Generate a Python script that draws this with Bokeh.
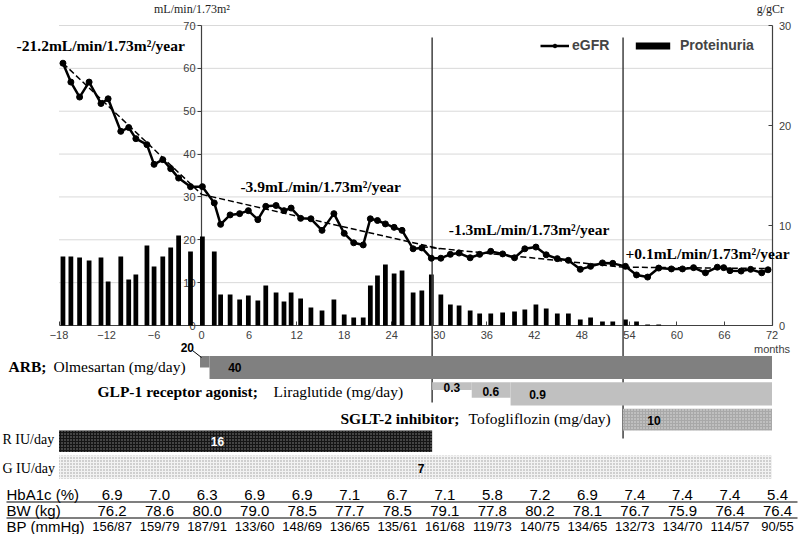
import numpy as np
from bokeh.plotting import figure
from bokeh.models import (Range1d, LinearAxis, FixedTicker, Legend, LegendItem,
                          GlobalInlineStyleSheet)
from bokeh.core.properties import value
from bokeh.embed import file_html
from bokeh.resources import INLINE

# ---------------- data ----------------
months = [-17.5, -16.5, -15.4, -14.2, -12.7, -11.8, -10.2, -9.2, -8.3, -6.9, -6.0, -4.9, -3.9, -2.9, -1.4, 0.1,
          1.6, 2.4, 3.6, 4.8, 5.9, 7.1, 8.1, 9.4, 10.4, 11.3, 12.5, 13.8, 15.2, 16.7, 18.0, 19.2, 20.4, 21.3,
          22.2, 23.2, 24.3, 25.3, 26.7, 27.8, 29.0, 30.2,
          31.4, 32.5, 33.9, 35.1, 36.5, 38.0, 39.5, 40.8, 42.2, 43.5, 44.9, 46.3, 47.8, 49.1, 50.6, 51.9,
          53.5, 54.9, 56.3, 57.7,
          59.3, 60.7, 62.1, 63.6, 65.1, 65.9, 66.7, 68.1, 69.3, 70.7, 71.5]
egfr = [61.2, 56.8, 53.3, 56.8, 51.8, 52.9, 45.3, 46.2, 43.6, 42.2, 37.6, 38.7, 36.6, 34.4, 32.4, 32.4,
        28.6, 23.6, 25.8, 26.1, 26.8, 24.7, 27.8, 28.0, 26.8, 27.4, 25.0, 24.9, 22.2, 26.1, 21.5, 19.3, 18.8, 24.9,
        24.5, 23.7, 22.9, 22.2, 17.9, 18.1, 15.7, 15.7,
        16.6, 16.9, 15.8, 16.6, 17.3, 16.7, 15.8, 17.9, 18.3, 16.5, 15.6, 15.2, 13.1, 13.8, 14.6, 14.5,
        13.8, 11.8, 11.3, 13.4,
        13.2, 13.2, 13.5, 12.3, 13.6, 13.5, 12.8, 12.7, 13.1, 12.3, 13.0]
proteinuria = [6.9, 6.9, 6.8, 6.5, 6.8, 4.4, 6.9, 4.6, 5.1, 8.0, 5.9, 6.9, 7.8, 9.0, 7.4, 8.9,
               7.4, 3.1, 3.1, 2.6, 3.0, 2.5, 4.0, 3.3, 2.4, 3.3, 2.7, 1.8, 1.5, 2.6, 1.1, 0.8, 0.8, 4.0,
               5.0, 6.1, 5.2, 5.5, 3.3, 3.5, 5.1, 3.1,
               2.1, 2.0, 1.5, 1.2, 1.2, 1.3, 1.4, 1.6, 2.1, 1.7, 1.2, 1.2, 0.6, 0.8, 0.4, 0.4,
               0.6, 0.4, 0.1, 0.1]
prot_months = months[:len(proteinuria)]

x_ticks = [-18, -12, -6, 0, 6, 12, 18, 24, 30, 36, 42, 48, 54, 60, 66, 72]
egfr_ticks = [0, 10, 20, 30, 40, 50, 60, 70]
prot_ticks = [0, 10, 20, 30]

# regression lines per period (start/end month, eGFR)
trend_x0 = [-17.5, 0.0, 27.8, 53.3]
trend_x1 = [0.0, 30.1, 53.3, 71.8]
trend_y0 = [61.2, 30.6, 18.4, 13.6]
trend_y1 = [30.6, 17.9, 13.6, 13.3]
slope_text = ["-21.2mL/min/1.73m\u00b2/year", "-3.9mL/min/1.73m\u00b2/year",
              "-1.3mL/min/1.73m\u00b2/year", "+0.1mL/min/1.73m\u00b2/year"]
slope_x = [-23.35, 4.9, 31.2, 53.5]
slope_y = [65.3, 32.4, 22.4, 16.8]

# treatments
arb_start, arb_end, arb_dose = [-0.2, 1.0], [1.0, 72.0], [20, 40]
glp_start, glp_end, glp_dose = [29.1, 34.1, 39.0], [34.1, 39.0, 72.0], [0.3, 0.6, 0.9]
sglt_start, sglt_end, sglt_dose = [53.2], [72.0], [10]
rins_start, rins_end, rins_dose = [-18.0], [29.1], [16]
gins_start, gins_end, gins_dose = [-18.0], [72.0], [7]

# table
table_months = [-12, -6, 0, 6, 12, 18, 24, 30, 36, 42, 48, 54, 60, 66, 72]
hba1c = ["6.9", "7.0", "6.3", "6.9", "6.9", "7.1", "6.7", "7.1", "5.8", "7.2", "6.9", "7.4", "7.4", "7.4", "5.4"]
bw = ["76.2", "78.6", "80.0", "79.0", "78.5", "77.7", "78.5", "79.1", "77.8", "80.2", "78.1", "76.7", "75.9", "76.4", "76.4"]
bp = ["156/87", "159/79", "187/91", "133/60", "148/69", "136/65", "135/61", "161/68", "119/73", "140/75",
      "134/65", "132/73", "134/70", "114/57", "90/55"]

# ---------------- layout helpers ----------------
W, H = 798, 534
KX = 713 / 90.0          # px per month
X0PX = 201.1             # px of month 0
KY = 300 / 70.0          # px per eGFR unit
Y0PX = 325.0             # px of eGFR 0


def xm(px):
    return (px - X0PX) / KX


def ym(py):
    return (Y0PX - py) / KY


SERIF = value("Liberation Serif")
SANS = value("Liberation Sans")

p = figure(width=W, height=H, output_backend="svg", toolbar_location=None,
           x_range=Range1d(xm(0), xm(W)), y_range=Range1d(ym(H), ym(0)),
           x_axis_type=None, y_axis_type=None, min_border=0,
           min_border_left=0, min_border_right=0, min_border_top=0, min_border_bottom=0)
p.extra_y_ranges = {"prot": Range1d((Y0PX - H) / 10.0, Y0PX / 10.0)}
p.outline_line_color = None
p.background_fill_color = "white"
p.stylesheets = [GlobalInlineStyleSheet(css="html, body {margin:0 !important; padding:0; overflow:hidden;}")]

# grid lines
grid_vals = egfr_ticks[1:]
p.segment(x0=[x_ticks[0]] * len(grid_vals), x1=[x_ticks[-1]] * len(grid_vals), y0=grid_vals, y1=grid_vals,
          line_color="#d9d9d9", line_width=1, level="underlay")

# axes
lax = LinearAxis(fixed_location=0, bounds=(0, 70), ticker=FixedTicker(ticks=egfr_ticks))
rax = LinearAxis(fixed_location=72, bounds=(0, 30), ticker=FixedTicker(ticks=prot_ticks), y_range_name="prot")
bax = LinearAxis(fixed_location=0, bounds=(-18, 72), ticker=FixedTicker(ticks=x_ticks))
for ax in (lax, rax, bax):
    ax.axis_line_color = "#404040"
    ax.axis_line_width = 1.2
    ax.major_tick_line_color = "#404040"
    ax.minor_tick_line_color = None
    ax.major_label_text_font = "Liberation Sans"
    ax.major_label_text_font_size = "11px"
    ax.major_label_text_color = "#404040"
    ax.level = "underlay"
lax.major_tick_out, lax.major_tick_in, lax.major_label_standoff = 4, 0, 2
rax.major_tick_out, rax.major_tick_in, rax.major_label_standoff = 0, 4, 7
bax.major_tick_out, bax.major_tick_in, bax.major_label_standoff = 0, 4, 5
p.add_layout(lax, "left")
p.add_layout(rax, "right")
p.add_layout(bax, "below")

p.text(x=[xm(191.5), 71.8], y=[ym(8), ym(8)], text=["mL/min/1.73m\u00b2", "g/gCr"],
       text_font=SERIF, text_font_size="12px", text_align="center", text_baseline="middle", text_color="#222")
p.text(x=[72], y=[ym(348)], text=["months"], text_font=SANS, text_font_size="11px",
       text_align="center", text_baseline="middle", text_color="#404040")

# proteinuria bars
bars = p.vbar(x=prot_months, top=proteinuria, bottom=0, width=0.6, y_range_name="prot",
              fill_color="black", line_color=None)

# treatment separators
p.segment(x0=[glp_start[0], sglt_start[0]], x1=[glp_start[0], sglt_start[0]],
          y0=[ym(37), ym(37)], y1=[ym(402), ym(438)], line_color="#404040", line_width=1.5)

# trend lines
p.segment(x0=trend_x0, x1=trend_x1, y0=trend_y0, y1=trend_y1, line_color="black",
          line_width=1.5, line_dash="6 3")

# eGFR
eline = p.line(months, egfr, line_color="black", line_width=2.5)
epts = p.scatter(months, egfr, size=6, fill_color="black", line_color="black")

p.text(x=slope_x, y=slope_y, text=slope_text, text_font=SERIF, text_font_style="bold",
       text_font_size="15.5px", text_align="left", text_baseline="middle", text_color="black")


def make_legend(item, x, gw, standoff):
    lg = Legend(items=[item], orientation="horizontal", location=(x, H - 53))
    lg.background_fill_alpha = 0
    lg.border_line_color = None
    lg.padding = 0
    lg.margin = 0
    lg.glyph_width = gw
    lg.glyph_height = 9
    lg.label_standoff = standoff
    lg.label_height = 16
    lg.label_text_font = "Liberation Sans"
    lg.label_text_font_style = "bold"
    lg.label_text_font_size = "14px"
    p.add_layout(lg)


make_legend(LegendItem(label="eGFR", renderers=[eline, epts]), 540, 29, 3)
make_legend(LegendItem(label="Proteinuria", renderers=[bars]), 631, 43, 6)

# ---------------- treatment rows ----------------
def drug_row(start, end, dose, top_px, full_h, **style):
    mx = max(dose)
    tops = [ym(top_px)] * len(dose)
    bots = [ym(top_px + full_h * d / mx) for d in dose]
    p.quad(left=start, right=end, top=tops, bottom=bots, line_color=None, **style)


drug_row(arb_start, arb_end, arb_dose, 355.5, 23.0, fill_color="#808080")
drug_row(glp_start, glp_end, glp_dose, 381.7, 23.3, fill_color="#c0c0c0")
drug_row(sglt_start, sglt_end, sglt_dose, 408.3, 21.7, fill_color="#a8a8a8",
         hatch_pattern="dot", hatch_color="#e0e0e0", hatch_scale=3, hatch_weight=1)
drug_row(rins_start, rins_end, rins_dose, 430.0, 21.5, fill_color="#151515",
         hatch_pattern="dot", hatch_color="#8a8a8a", hatch_scale=3, hatch_weight=1)
drug_row(gins_start, gins_end, gins_dose, 455.0, 23.3, fill_color="#f2f2f2",
         hatch_pattern="dot", hatch_color="#9a9a9a", hatch_scale=3, hatch_weight=1)

# leader for ARB 20 mg
p.segment(x0=[xm(192)], y0=[ym(350)], x1=[xm(201)], y1=[ym(357)], line_color="black", line_width=1)

dose_x = [-1.8, 4.2, 31.6, 36.5, 42.4, 57.1, 27.7]
dose_y = [ym(347), ym(367), ym(387), ym(391), ym(393.5), ym(420), ym(468)]
dose_t = [str(arb_dose[0]), str(arb_dose[1]), str(glp_dose[0]), str(glp_dose[1]), str(glp_dose[2]),
          str(sglt_dose[0]), str(gins_dose[0])]
p.text(x=dose_x, y=dose_y, text=dose_t, text_font=SANS, text_font_style="bold", text_font_size="12px",
       text_align="center", text_baseline="middle", text_color="black")
p.text(x=[2.0], y=[ym(441)], text=[str(rins_dose[0])], text_font=SANS, text_font_style="bold",
       text_font_size="12px", text_align="center", text_baseline="middle", text_color="white")

p.text(x=[xm(8), xm(97), xm(340)], y=[ym(366), ym(391), ym(418)],
       text=["ARB;", "GLP-1 receptor agonist;", "SGLT-2 inhibitor;"], text_font=SERIF,
       text_font_style="bold", text_font_size="15.5px", text_align="left", text_baseline="middle")
p.text(x=[xm(53), xm(273), xm(468)], y=[ym(366), ym(391), ym(418)],
       text=["Olmesartan (mg/day)", "Liraglutide (mg/day)", "Tofogliflozin (mg/day)"], text_font=SERIF,
       text_font_size="15.5px", text_align="left", text_baseline="middle")
p.text(x=[xm(2), xm(2)], y=[ym(439), ym(468)], text=["R IU/day", "G IU/day"], text_font=SERIF,
       text_font_size="14px", text_align="left", text_baseline="middle")

# ---------------- table ----------------
row_y = [ym(494), ym(510), ym(526)]
p.text(x=[xm(6)] * 3, y=row_y, text=["HbA1c (%)", "BW (kg)", "BP (mmHg)"], text_font=SANS,
       text_font_size="15px", text_align="left", text_baseline="middle", text_color="black")
tx = [m + 0.7 for m in table_months]
p.text(x=tx, y=[row_y[0]] * len(tx), text=hba1c, text_font=SANS, text_font_size="15px",
       text_align="center", text_baseline="middle")
p.text(x=tx, y=[row_y[1]] * len(tx), text=bw, text_font=SANS, text_font_size="15px",
       text_align="center", text_baseline="middle")
p.text(x=tx, y=[row_y[2]] * len(tx), text=bp, text_font=SANS, text_font_size="13px",
       text_align="center", text_baseline="middle")
p.segment(x0=[xm(6), xm(6)], x1=[xm(797), xm(797)], y0=[ym(501.5), ym(517.5)], y1=[ym(501.5), ym(517.5)],
          line_color="black", line_width=1.2)

open("out.html", "w").write(file_html(p, INLINE))
